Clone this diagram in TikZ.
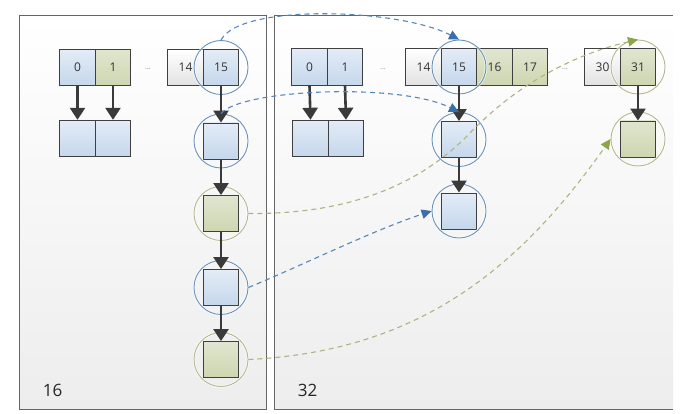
\documentclass[tikz,border=0pt]{standalone}
\usepackage{fontspec}
\setmainfont{Open Sans}
\usetikzlibrary{arrows.meta}
\definecolor{panelbot}{HTML}{EDEDED}
\definecolor{panelline}{HTML}{666666}
\definecolor{cellline}{HTML}{3F3F3F}
\definecolor{bluetop}{HTML}{E3ECF7}
\definecolor{bluebot}{HTML}{C5D7EB}
\definecolor{greentop}{HTML}{E0E6CF}
\definecolor{greenbot}{HTML}{CDD6B0}
\definecolor{whitetop}{HTML}{FFFFFF}
\definecolor{whitebot}{HTML}{E2E2E2}
\definecolor{ringblue}{HTML}{6A92BE}
\definecolor{ringgreen}{HTML}{B4B98B}
\definecolor{dashblue}{HTML}{5585BA}
\definecolor{headblue}{HTML}{3A6FAE}
\definecolor{dashgreen}{HTML}{AEB47F}
\definecolor{headgreen}{HTML}{8BA648}
\definecolor{chaincol}{HTML}{3A3A3A}
\definecolor{dotcol}{HTML}{808080}
\begin{document}
\begin{tikzpicture}[x=1pt,y=-1pt,
  cellbase/.style={draw=cellline,line width=0.9pt,minimum width=35.5pt,minimum height=36.5pt,inner sep=0pt,font=\fontsize{12}{12}\selectfont,text=black!80},
  bluecell/.style={cellbase,top color=bluetop,bottom color=bluebot},
  greencell/.style={cellbase,top color=greentop,bottom color=greenbot},
  whitecell/.style={cellbase,top color=whitetop,bottom color=whitebot},
  bluebox/.style={bluecell,minimum width=35pt,minimum height=36pt},
  greenbox/.style={greencell,minimum width=35pt,minimum height=36pt},
  ringbase/.style={circle,minimum size=54pt,inner sep=0pt,line width=0.9pt,preaction={draw=white,line width=2.6pt,opacity=0.6}},
  bluering/.style={ringbase,draw=ringblue},
  greenring/.style={ringbase,draw=ringgreen},
  chainarrow/.style={draw=chaincol,line width=2.6pt,-{Triangle[width=15pt,length=12pt]}},
  bluedash/.style={draw=dashblue,line width=1.1pt,dash pattern=on 5pt off 4pt,-{Triangle[width=9.5pt,length=10pt,fill=headblue,color=headblue]}},
  greendash/.style={draw=dashgreen,line width=1.1pt,dash pattern=on 5pt off 4pt,-{Triangle[width=9.5pt,length=10pt,fill=headgreen,color=headgreen]}},
  dotsnode/.style={font=\fontsize{7}{7}\selectfont,text=dotcol,inner sep=0pt},
  panellabel/.style={font=\fontsize{17}{17}\selectfont,text=black!85,inner sep=0pt}
]
\useasboundingbox (0,0) rectangle (698,414);
\fill[white] (0,0) rectangle (698,414);
% panels
\shade[top color=white,bottom color=panelbot] (19,16) rectangle (266,409);
\draw[panelline,line width=1pt] (19,16) rectangle (266,409);
\shade[top color=white,bottom color=panelbot] (274,16) rectangle (673,409);
\draw[panelline,line width=1pt] (673,16) -- (274,16) -- (274,409) -- (673,409);

% left panel, top row
\node[bluecell]  (L0)  at (77.5,67.5) {0};
\node[greencell] (L1)  at (113,67.5) {1};
\node[dotsnode]  (Ld)  at (148,69) {...};
\node[whitecell] (L14) at (185.5,67.5) {14};
\node[bluecell]  (L15) at (221,67.5) {15};
% left panel, second row
\node[bluecell] (L0b) at (77.5,138.5) {};
\node[bluecell] (L1b) at (113,138.5) {};
% left chain
\node[bluebox]  (La) at (221,141) {};
\node[greenbox] (Lb) at (221,213.5) {};
\node[bluebox]  (Lc) at (221,287.5) {};
\node[greenbox] (Le) at (221,359.5) {};

% right panel, top row
\node[bluecell]  (R0)  at (309.5,67) {0};
\node[bluecell]  (R1)  at (345,67) {1};
\node[dotsnode]  (Rd1) at (383,69) {...};
\node[whitecell] (R14) at (423.5,67) {14};
\node[bluecell]  (R15) at (459,67) {15};
\node[greencell] (R16) at (494.5,67) {16};
\node[greencell] (R17) at (530,67) {17};
\node[dotsnode]  (Rd2) at (565,69) {...};
\node[whitecell] (R30) at (602.5,67) {30};
\node[greencell] (R31) at (638,67) {31};
% right panel, second row
\node[bluecell] (R0b) at (310.5,138.5) {};
\node[bluecell] (R1b) at (346,138.5) {};
% right chains
\node[bluebox]  (Ra) at (459,139.5) {};
\node[bluebox]  (Rb) at (459,211) {};
\node[greenbox] (Rz) at (638,139) {};

% labels
\node[panellabel] (lab16) at (52.5,390) {16};
\node[panellabel] (lab32) at (307.5,390) {32};

% rings
\node[bluering]  (kL15) at (L15) {};
\node[bluering]  (kLa)  at (La) {};
\node[greenring] (kLb)  at (Lb) {};
\node[bluering]  (kLc)  at (Lc) {};
\node[greenring] (kLe)  at (Le) {};
\node[bluering]  (kR15) at (R15) {};
\node[bluering]  (kRa)  at (Ra) {};
\node[bluering]  (kRb)  at (Rb) {};
\node[greenring] (kR31) at (R31) {};
\node[greenring] (kRz)  at (Rz) {};

% chain arrows
\draw[chainarrow] (L0.south) -- (L0b.north);
\draw[chainarrow] (L1.south) -- (L1b.north);
\draw[chainarrow] (L15.south) -- (La.north);
\draw[chainarrow] (La.south) -- (Lb.north);
\draw[chainarrow] (Lb.south) -- (Lc.north);
\draw[chainarrow] (Lc.south) -- (Le.north);
\draw[chainarrow] (R0.south) -- (R0b.north);
\draw[chainarrow] (R1.south) -- (R1b.north);
\draw[chainarrow] (R15.south) -- (Ra.north);
\draw[chainarrow] (Ra.south) -- (Rb.north);
\draw[chainarrow] (R31.south) -- (Rz.north);

% dashed moves
\draw[bluedash] (kL15.north) .. controls +(19,-37) and +(-59,-31) .. (kR15.north);
\draw[bluedash] (kLa.north) .. controls +(19,-24) and +(-60,-30) .. (kRa.north);
\draw[bluedash] (kLc.east) .. controls +(60,-25) and +(-60,20) .. (kRb.west);
\draw[greendash] (kLb.east) .. controls +(100,1) and +(-50,52) .. (470,133)
   .. controls +(50,-52) and +(-60,14) .. (kR31.north);
\draw[greendash] (kLe.east) .. controls +(165,-8) and +(-95,135) .. (kRz.west);
\end{tikzpicture}
\end{document}
